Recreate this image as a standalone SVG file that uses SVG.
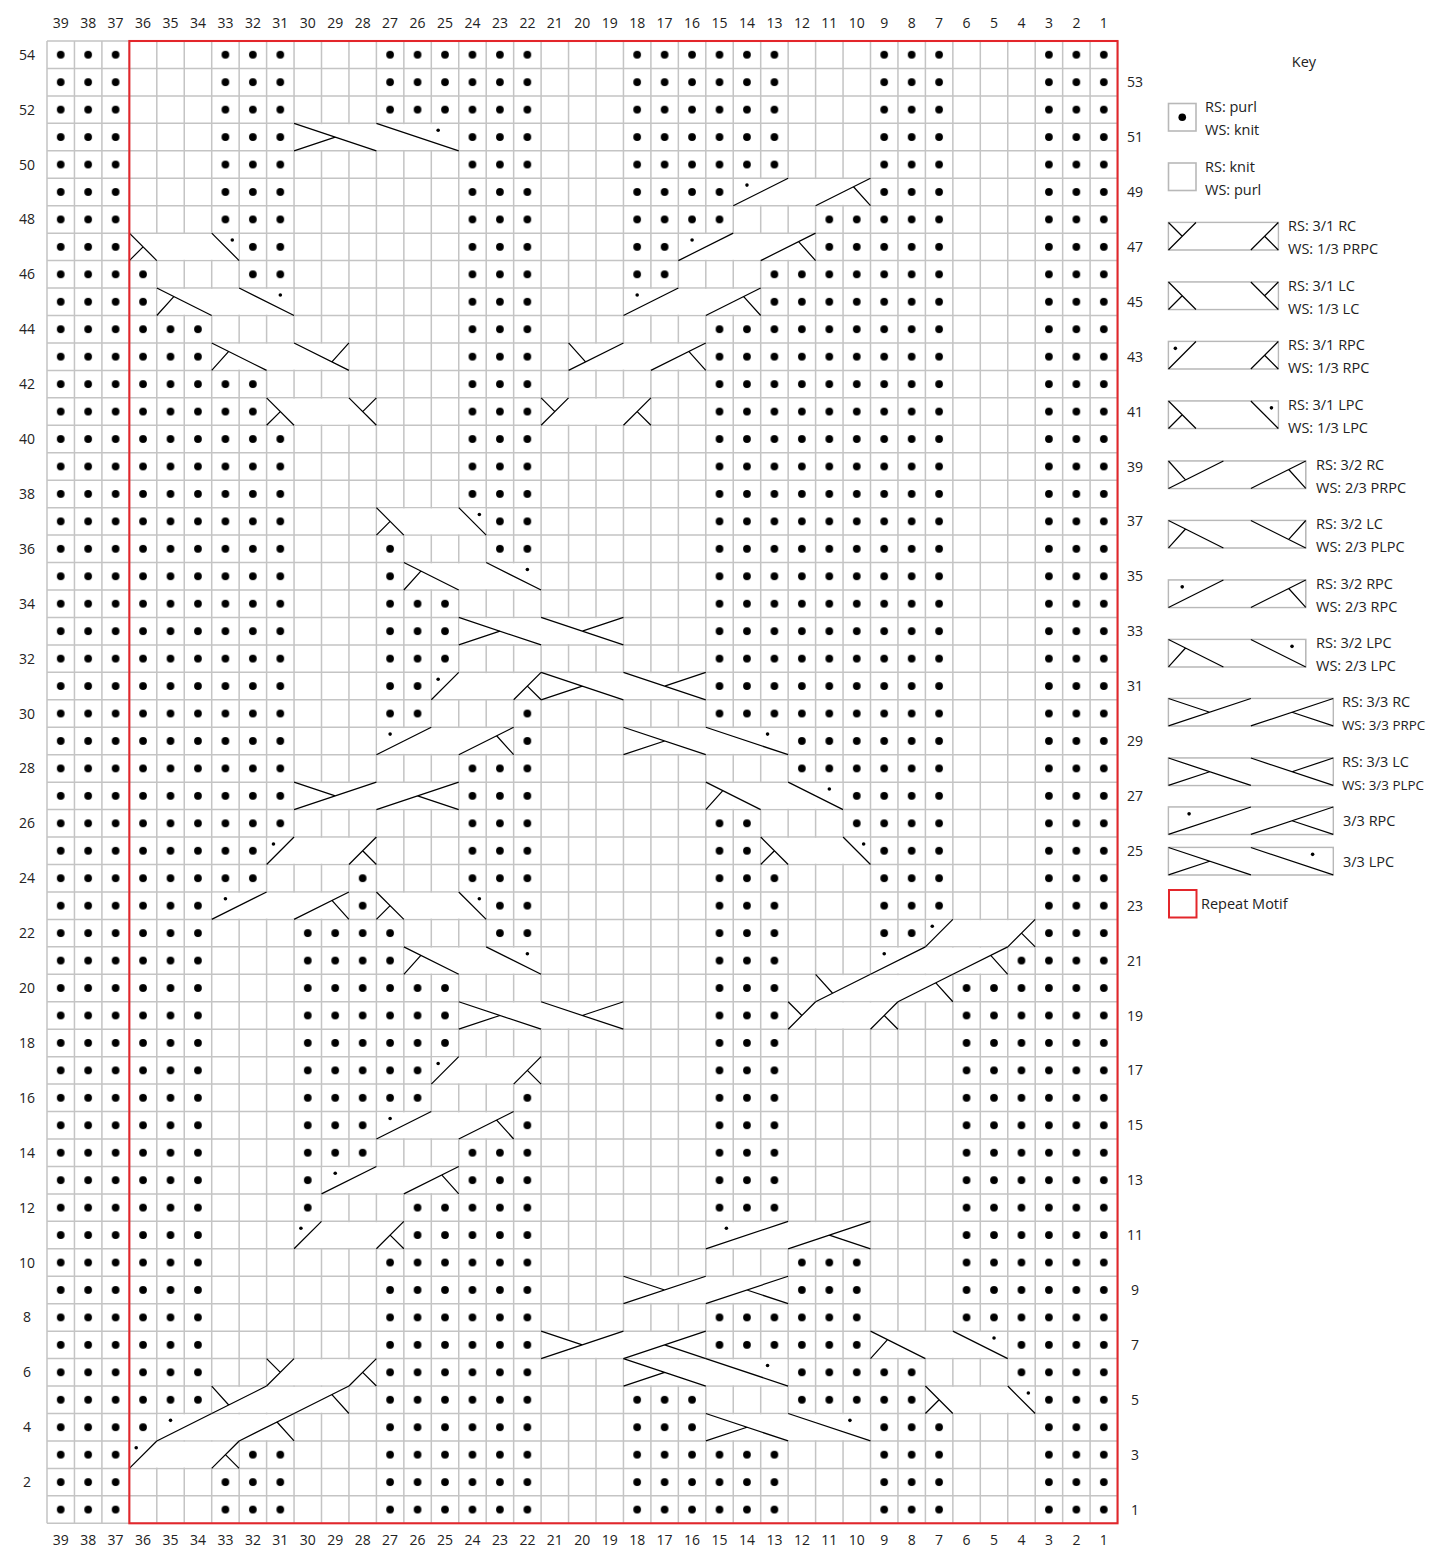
<svg xmlns="http://www.w3.org/2000/svg" width="1429" height="1547" viewBox="0 0 1429 1547">
<defs>
<style>
.t{font-family:"Open Sans","Noto Sans","Liberation Sans",sans-serif;font-size:14px;fill:#222}
.kt{font-family:"Open Sans","Noto Sans","Liberation Sans",sans-serif;font-size:14.5px;fill:#222}
.ks{font-size:13.4px}
.m{text-anchor:middle}
.g{fill:none;stroke:#c4c4c4;stroke-width:0.055}
.k{fill:none;stroke:#000;stroke-width:0.045}
.w{fill:#fff}
.kb{fill:#fff;stroke:#b8b8b8;stroke-width:0.06}
.p{fill:url(#pd)}
</style>
<pattern id="pd" width="1" height="1" patternUnits="userSpaceOnUse"><circle cx="0.5" cy="0.5" r="0.14" fill="#000"/></pattern>
<g id="c31rc"><rect class="w" x="0.03" y="0.03" width="3.94" height="0.94"/><path class="k" d="M0,1L1,0M0,0L0.5,0.5M3,1L4,0M4,1L3.5,0.5"/></g>
<g id="c31lc"><rect class="w" x="0.03" y="0.03" width="3.94" height="0.94"/><path class="k" d="M0,0L1,1M0,1L0.5,0.5M3,0L4,1M4,0L3.5,0.5"/></g>
<g id="c31rpc"><rect class="w" x="0.03" y="0.03" width="3.94" height="0.94"/><path class="k" d="M0,1L1,0M3,1L4,0M4,1L3.5,0.5"/><circle cx="0.25" cy="0.25" r="0.065"/></g>
<g id="c31lpc"><rect class="w" x="0.03" y="0.03" width="3.94" height="0.94"/><path class="k" d="M0,0L1,1M0,1L0.5,0.5M3,0L4,1"/><circle cx="3.75" cy="0.25" r="0.065"/></g>
<g id="c32rc"><rect class="w" x="0.03" y="0.03" width="4.94" height="0.94"/><path class="k" d="M0,1L2,0M0,0L0.62,0.69M3,1L5,0M5,1L4.38,0.31"/></g>
<g id="c32lc"><rect class="w" x="0.03" y="0.03" width="4.94" height="0.94"/><path class="k" d="M0,0L2,1M0,1L0.62,0.31M3,0L5,1M5,0L4.38,0.69"/></g>
<g id="c32rpc"><rect class="w" x="0.03" y="0.03" width="4.94" height="0.94"/><path class="k" d="M0,1L2,0M3,1L5,0M5,1L4.38,0.31"/><circle cx="0.5" cy="0.25" r="0.065"/></g>
<g id="c32lpc"><rect class="w" x="0.03" y="0.03" width="4.94" height="0.94"/><path class="k" d="M0,0L2,1M0,1L0.62,0.31M3,0L5,1"/><circle cx="4.5" cy="0.25" r="0.065"/></g>
<g id="c33rc"><rect class="w" x="0.03" y="0.03" width="5.94" height="0.94"/><path class="k" d="M0,1L3,0M0,0L1.5,0.5M3,1L6,0M6,1L4.5,0.5"/></g>
<g id="c33lc"><rect class="w" x="0.03" y="0.03" width="5.94" height="0.94"/><path class="k" d="M0,0L3,1M0,1L1.5,0.5M3,0L6,1M6,0L4.5,0.5"/></g>
<g id="c33rpc"><rect class="w" x="0.03" y="0.03" width="5.94" height="0.94"/><path class="k" d="M0,1L3,0M3,1L6,0M6,1L4.5,0.5"/><circle cx="0.75" cy="0.25" r="0.065"/></g>
<g id="c33lpc"><rect class="w" x="0.03" y="0.03" width="5.94" height="0.94"/><path class="k" d="M0,0L3,1M0,1L1.5,0.5M3,0L6,1"/><circle cx="5.25" cy="0.25" r="0.065"/></g>
</defs>
<rect width="1429" height="1547" fill="#fff"/>
<g id="chart" transform="translate(47,41) scale(27.45)">
<rect width="39" height="54" fill="#fff"/>
<g id="purl-stitches" class="p">
<rect x="0" y="0" width="3" height="54"/>
<rect x="36" y="0" width="3" height="54"/>
<rect x="6" y="0" width="3" height="7"/>
<rect x="7" y="7" width="2" height="2"/>
<rect x="3" y="8" width="1" height="2"/>
<rect x="3" y="10" width="3" height="2"/>
<rect x="3" y="12" width="5" height="2"/>
<rect x="3" y="14" width="6" height="15"/>
<rect x="3" y="29" width="5" height="2"/>
<rect x="3" y="31" width="3" height="19"/>
<rect x="3" y="50" width="1" height="1"/>
<rect x="7" y="51" width="2" height="1"/>
<rect x="6" y="52" width="3" height="2"/>
<rect x="12" y="0" width="6" height="3"/>
<rect x="15" y="3" width="3" height="14"/>
<rect x="16" y="17" width="2" height="2"/>
<rect x="12" y="18" width="1" height="2"/>
<rect x="12" y="20" width="3" height="3"/>
<rect x="12" y="23" width="2" height="2"/>
<rect x="17" y="24" width="1" height="2"/>
<rect x="15" y="26" width="3" height="5"/>
<rect x="11" y="30" width="1" height="2"/>
<rect x="16" y="31" width="2" height="2"/>
<rect x="9" y="32" width="4" height="2"/>
<rect x="9" y="34" width="6" height="3"/>
<rect x="9" y="37" width="5" height="2"/>
<rect x="17" y="38" width="1" height="2"/>
<rect x="9" y="39" width="3" height="2"/>
<rect x="15" y="40" width="3" height="2"/>
<rect x="9" y="41" width="1" height="2"/>
<rect x="13" y="42" width="5" height="2"/>
<rect x="12" y="44" width="6" height="10"/>
<rect x="21" y="0" width="6" height="5"/>
<rect x="21" y="5" width="4" height="2"/>
<rect x="21" y="7" width="2" height="2"/>
<rect x="30" y="0" width="3" height="6"/>
<rect x="28" y="6" width="5" height="2"/>
<rect x="26" y="8" width="7" height="2"/>
<rect x="24" y="10" width="9" height="15"/>
<rect x="27" y="25" width="6" height="2"/>
<rect x="29" y="27" width="4" height="2"/>
<rect x="24" y="28" width="2" height="2"/>
<rect x="30" y="29" width="3" height="3"/>
<rect x="24" y="30" width="3" height="13"/>
<rect x="30" y="32" width="2" height="1"/>
<rect x="35" y="33" width="1" height="1"/>
<rect x="33" y="34" width="3" height="13"/>
<rect x="27" y="44" width="3" height="2"/>
<rect x="24" y="46" width="6" height="2"/>
<rect x="35" y="47" width="1" height="2"/>
<rect x="27" y="48" width="5" height="2"/>
<rect x="21" y="49" width="3" height="2"/>
<rect x="30" y="50" width="3" height="4"/>
<rect x="21" y="51" width="6" height="3"/>
</g>
<path id="grid" class="g" d="M0 0V54M1 0V54M2 0V54M3 0V54M4 0V54M5 0V54M6 0V54M7 0V54M8 0V54M9 0V54M10 0V54M11 0V54M12 0V54M13 0V54M14 0V54M15 0V54M16 0V54M17 0V54M18 0V54M19 0V54M20 0V54M21 0V54M22 0V54M23 0V54M24 0V54M25 0V54M26 0V54M27 0V54M28 0V54M29 0V54M30 0V54M31 0V54M32 0V54M33 0V54M34 0V54M35 0V54M36 0V54M37 0V54M38 0V54M39 0V54M0 0H39M0 1H39M0 2H39M0 3H39M0 4H39M0 5H39M0 6H39M0 7H39M0 8H39M0 9H39M0 10H39M0 11H39M0 12H39M0 13H39M0 14H39M0 15H39M0 16H39M0 17H39M0 18H39M0 19H39M0 20H39M0 21H39M0 22H39M0 23H39M0 24H39M0 25H39M0 26H39M0 27H39M0 28H39M0 29H39M0 30H39M0 31H39M0 32H39M0 33H39M0 34H39M0 35H39M0 36H39M0 37H39M0 38H39M0 39H39M0 40H39M0 41H39M0 42H39M0 43H39M0 44H39M0 45H39M0 46H39M0 47H39M0 48H39M0 49H39M0 50H39M0 51H39M0 52H39M0 53H39M0 54H39"/>
<g id="cables">
<use href="#c33lpc" x="9" y="3"/>
<use href="#c32rpc" x="25" y="5"/>
<use href="#c31lpc" x="3" y="7"/>
<use href="#c32rpc" x="23" y="7"/>
<use href="#c32lpc" x="4" y="9"/>
<use href="#c32rpc" x="21" y="9"/>
<use href="#c32lc" x="6" y="11"/>
<use href="#c32rc" x="19" y="11"/>
<use href="#c31lc" x="8" y="13"/>
<use href="#c31rc" x="18" y="13"/>
<use href="#c31lpc" x="12" y="17"/>
<use href="#c32lpc" x="13" y="19"/>
<use href="#c33lc" x="15" y="21"/>
<use href="#c31rpc" x="14" y="23"/>
<use href="#c33lc" x="18" y="23"/>
<use href="#c32rpc" x="12" y="25"/>
<use href="#c33lpc" x="21" y="25"/>
<use href="#c33rc" x="9" y="27"/>
<use href="#c32lpc" x="24" y="27"/>
<use href="#c31rpc" x="8" y="29"/>
<use href="#c31lpc" x="26" y="29"/>
<use href="#c32rpc" x="6" y="31"/>
<use href="#c31lpc" x="12" y="31"/>
<use href="#c31rpc" x="32" y="32"/>
<use href="#c32lpc" x="13" y="33"/>
<use href="#c32rpc" x="30" y="33"/>
<use href="#c32rc" x="28" y="34"/>
<use href="#c33lc" x="15" y="35"/>
<use href="#c31rc" x="27" y="35"/>
<use href="#c31rpc" x="14" y="37"/>
<use href="#c32rpc" x="12" y="39"/>
<use href="#c32rpc" x="10" y="41"/>
<use href="#c31rpc" x="9" y="43"/>
<use href="#c33rpc" x="24" y="43"/>
<use href="#c33rc" x="21" y="45"/>
<use href="#c33rc" x="18" y="47"/>
<use href="#c32lpc" x="30" y="47"/>
<use href="#c31rc" x="8" y="48"/>
<use href="#c33lpc" x="21" y="48"/>
<use href="#c32rc" x="6" y="49"/>
<use href="#c31lpc" x="32" y="49"/>
<use href="#c32rpc" x="4" y="50"/>
<use href="#c33lpc" x="24" y="50"/>
<use href="#c31rpc" x="3" y="51"/>
</g>
<rect id="repeat-motif" x="3" y="0" width="36" height="54" fill="none" stroke="#e3262b" stroke-width="0.075"/>
</g>
<g id="column-numbers" class="t m">
<text y="28"><tspan x="60.7">39</tspan><tspan x="88.2">38</tspan><tspan x="115.6">37</tspan><tspan x="143.1">36</tspan><tspan x="170.5">35</tspan><tspan x="198">34</tspan><tspan x="225.4">33</tspan><tspan x="252.9">32</tspan><tspan x="280.3">31</tspan><tspan x="307.8">30</tspan><tspan x="335.2">29</tspan><tspan x="362.7">28</tspan><tspan x="390.1">27</tspan><tspan x="417.6">26</tspan><tspan x="445">25</tspan><tspan x="472.5">24</tspan><tspan x="499.9">23</tspan><tspan x="527.4">22</tspan><tspan x="554.8">21</tspan><tspan x="582.3">20</tspan><tspan x="609.7">19</tspan><tspan x="637.2">18</tspan><tspan x="664.6">17</tspan><tspan x="692.1">16</tspan><tspan x="719.5">15</tspan><tspan x="747">14</tspan><tspan x="774.4">13</tspan><tspan x="801.9">12</tspan><tspan x="829.3">11</tspan><tspan x="856.8">10</tspan><tspan x="884.2">9</tspan><tspan x="911.7">8</tspan><tspan x="939.1">7</tspan><tspan x="966.6">6</tspan><tspan x="994">5</tspan><tspan x="1021.5">4</tspan><tspan x="1048.9">3</tspan><tspan x="1076.4">2</tspan><tspan x="1103.8">1</tspan></text>
<text y="1545"><tspan x="60.7">39</tspan><tspan x="88.2">38</tspan><tspan x="115.6">37</tspan><tspan x="143.1">36</tspan><tspan x="170.5">35</tspan><tspan x="198">34</tspan><tspan x="225.4">33</tspan><tspan x="252.9">32</tspan><tspan x="280.3">31</tspan><tspan x="307.8">30</tspan><tspan x="335.2">29</tspan><tspan x="362.7">28</tspan><tspan x="390.1">27</tspan><tspan x="417.6">26</tspan><tspan x="445">25</tspan><tspan x="472.5">24</tspan><tspan x="499.9">23</tspan><tspan x="527.4">22</tspan><tspan x="554.8">21</tspan><tspan x="582.3">20</tspan><tspan x="609.7">19</tspan><tspan x="637.2">18</tspan><tspan x="664.6">17</tspan><tspan x="692.1">16</tspan><tspan x="719.5">15</tspan><tspan x="747">14</tspan><tspan x="774.4">13</tspan><tspan x="801.9">12</tspan><tspan x="829.3">11</tspan><tspan x="856.8">10</tspan><tspan x="884.2">9</tspan><tspan x="911.7">8</tspan><tspan x="939.1">7</tspan><tspan x="966.6">6</tspan><tspan x="994">5</tspan><tspan x="1021.5">4</tspan><tspan x="1048.9">3</tspan><tspan x="1076.4">2</tspan><tspan x="1103.8">1</tspan></text>
</g>
<g id="row-numbers" class="t m">
<text><tspan x="27" y="59.7">54</tspan><tspan x="27" y="114.6">52</tspan><tspan x="27" y="169.5">50</tspan><tspan x="27" y="224.4">48</tspan><tspan x="27" y="279.3">46</tspan><tspan x="27" y="334.2">44</tspan><tspan x="27" y="389.1">42</tspan><tspan x="27" y="444">40</tspan><tspan x="27" y="498.9">38</tspan><tspan x="27" y="553.8">36</tspan><tspan x="27" y="608.7">34</tspan><tspan x="27" y="663.6">32</tspan><tspan x="27" y="718.5">30</tspan><tspan x="27" y="773.4">28</tspan><tspan x="27" y="828.3">26</tspan><tspan x="27" y="883.2">24</tspan><tspan x="27" y="938.1">22</tspan><tspan x="27" y="993">20</tspan><tspan x="27" y="1047.9">18</tspan><tspan x="27" y="1102.8">16</tspan><tspan x="27" y="1157.7">14</tspan><tspan x="27" y="1212.6">12</tspan><tspan x="27" y="1267.5">10</tspan><tspan x="27" y="1322.4">8</tspan><tspan x="27" y="1377.3">6</tspan><tspan x="27" y="1432.2">4</tspan><tspan x="27" y="1487.1">2</tspan></text>
<text><tspan x="1135" y="87.2">53</tspan><tspan x="1135" y="142.1">51</tspan><tspan x="1135" y="197">49</tspan><tspan x="1135" y="251.9">47</tspan><tspan x="1135" y="306.8">45</tspan><tspan x="1135" y="361.7">43</tspan><tspan x="1135" y="416.6">41</tspan><tspan x="1135" y="471.5">39</tspan><tspan x="1135" y="526.4">37</tspan><tspan x="1135" y="581.3">35</tspan><tspan x="1135" y="636.2">33</tspan><tspan x="1135" y="691.1">31</tspan><tspan x="1135" y="746">29</tspan><tspan x="1135" y="800.9">27</tspan><tspan x="1135" y="855.8">25</tspan><tspan x="1135" y="910.7">23</tspan><tspan x="1135" y="965.6">21</tspan><tspan x="1135" y="1020.5">19</tspan><tspan x="1135" y="1075.4">17</tspan><tspan x="1135" y="1130.3">15</tspan><tspan x="1135" y="1185.2">13</tspan><tspan x="1135" y="1240.1">11</tspan><tspan x="1135" y="1295">9</tspan><tspan x="1135" y="1349.9">7</tspan><tspan x="1135" y="1404.8">5</tspan><tspan x="1135" y="1459.7">3</tspan><tspan x="1135" y="1514.6">1</tspan></text>
</g>
<g id="key">
<text class="kt m" x="1304" y="67">Key</text>
<g id="key-purl"><rect x="1168.5" y="103.5" width="27.5" height="27.5" fill="#fff" stroke="#b8b8b8" stroke-width="1.6"/><circle cx="1182.25" cy="117.25" r="3.8"/><text class="kt" x="1205" y="112">RS: purl</text><text class="kt" x="1205" y="135">WS: knit</text></g>
<g id="key-knit"><rect x="1168.5" y="163" width="27.5" height="27.5" fill="#fff" stroke="#b8b8b8" stroke-width="1.6"/><text class="kt" x="1205" y="171.5">RS: knit</text><text class="kt" x="1205" y="194.5">WS: purl</text></g>
<g id="key-31rc"><g transform="translate(1168.5,222.5) scale(27.45)"><rect class="kb" width="4" height="1"/><use href="#c31rc"/></g><text class="kt" x="1288" y="231">RS: 3/1 RC</text><text class="kt" x="1288" y="254">WS: 1/3 PRPC</text></g>
<g id="key-31lc"><g transform="translate(1168.5,282) scale(27.45)"><rect class="kb" width="4" height="1"/><use href="#c31lc"/></g><text class="kt" x="1288" y="290.5">RS: 3/1 LC</text><text class="kt" x="1288" y="313.5">WS: 1/3 LC</text></g>
<g id="key-31rpc"><g transform="translate(1168.5,341.5) scale(27.45)"><rect class="kb" width="4" height="1"/><use href="#c31rpc"/></g><text class="kt" x="1288" y="350">RS: 3/1 RPC</text><text class="kt" x="1288" y="373">WS: 1/3 RPC</text></g>
<g id="key-31lpc"><g transform="translate(1168.5,401) scale(27.45)"><rect class="kb" width="4" height="1"/><use href="#c31lpc"/></g><text class="kt" x="1288" y="409.5">RS: 3/1 LPC</text><text class="kt" x="1288" y="432.5">WS: 1/3 LPC</text></g>
<g id="key-32rc"><g transform="translate(1168.5,461) scale(27.45)"><rect class="kb" width="5" height="1"/><use href="#c32rc"/></g><text class="kt" x="1316" y="469.5">RS: 3/2 RC</text><text class="kt" x="1316" y="492.5">WS: 2/3 PRPC</text></g>
<g id="key-32lc"><g transform="translate(1168.5,520.5) scale(27.45)"><rect class="kb" width="5" height="1"/><use href="#c32lc"/></g><text class="kt" x="1316" y="529">RS: 3/2 LC</text><text class="kt" x="1316" y="552">WS: 2/3 PLPC</text></g>
<g id="key-32rpc"><g transform="translate(1168.5,580) scale(27.45)"><rect class="kb" width="5" height="1"/><use href="#c32rpc"/></g><text class="kt" x="1316" y="588.5">RS: 3/2 RPC</text><text class="kt" x="1316" y="611.5">WS: 2/3 RPC</text></g>
<g id="key-32lpc"><g transform="translate(1168.5,639.5) scale(27.45)"><rect class="kb" width="5" height="1"/><use href="#c32lpc"/></g><text class="kt" x="1316" y="648">RS: 3/2 LPC</text><text class="kt" x="1316" y="671">WS: 2/3 LPC</text></g>
<g id="key-33rc"><g transform="translate(1168.5,698.5) scale(27.45)"><rect class="kb" width="6" height="1"/><use href="#c33rc"/></g><text class="kt" x="1342" y="707">RS: 3/3 RC</text><text class="kt ks" x="1342" y="730">WS: 3/3 PRPC</text></g>
<g id="key-33lc"><g transform="translate(1168.5,758) scale(27.45)"><rect class="kb" width="6" height="1"/><use href="#c33lc"/></g><text class="kt" x="1342" y="766.5">RS: 3/3 LC</text><text class="kt ks" x="1342" y="789.5">WS: 3/3 PLPC</text></g>
<g id="key-33rpc"><g transform="translate(1168.5,807) scale(27.45)"><rect class="kb" width="6" height="1"/><use href="#c33rpc"/></g><text class="kt" x="1343" y="826">3/3 RPC</text></g>
<g id="key-33lpc"><g transform="translate(1168.5,847.5) scale(27.45)"><rect class="kb" width="6" height="1"/><use href="#c33lpc"/></g><text class="kt" x="1343" y="866.5">3/3 LPC</text></g>
<g id="key-repeat"><rect x="1169" y="890" width="27.5" height="27.5" fill="none" stroke="#e3262b" stroke-width="2"/><text class="kt" x="1201" y="909">Repeat Motif</text></g>
</g>
</svg>
